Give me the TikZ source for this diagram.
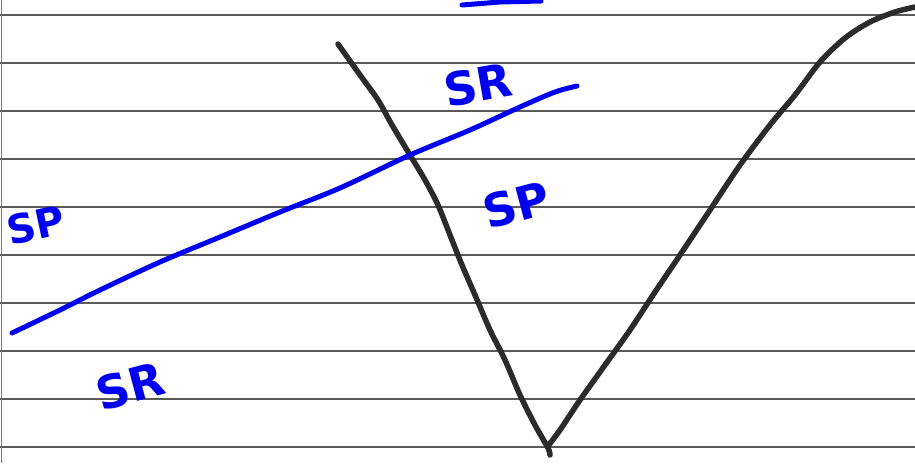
\documentclass[tikz,border=0pt]{standalone}
\usepackage{fontspec}
\setmainfont{DejaVu Sans}
\definecolor{ink}{HTML}{0000F0}
\definecolor{pencil}{HTML}{2B2B2B}
\definecolor{rule}{HTML}{5A5A5A}
\definecolor{margin}{HTML}{B06068}
\begin{document}
\begin{tikzpicture}[x=1pt,y=-1pt,
  ruleline/.style={draw=rule,line width=1.3pt},
  bluestroke/.style={draw=ink,line width=5pt,line cap=round,line join=round},
  blackstroke/.style={draw=pencil,line width=5.5pt,line cap=round,line join=round},
  hand/.style={text=ink,font=\bfseries\fontsize{46}{46}\selectfont,inner sep=0pt}]
\useasboundingbox (0,0) rectangle (915,463);
\fill[white] (0,0) rectangle (915,463);
\foreach \y in {15,63,111,159,207,255,303,351,399,447}
  \draw[ruleline] (0,\y) -- (915,\y);
\draw[margin,line width=1.3pt] (1.5,0) -- (1.5,463);
% black V curve
\draw[blackstroke] plot[smooth,tension=0.5] coordinates {(338,44) (360,75) (378,100) (392,125) (410,155) (425,180) (438,205) (450,235) (462,265) (475,295) (490,330) (505,360) (520,395) (535,425) (548,448) (550,455)};
\draw[blackstroke] plot[smooth,tension=0.5] coordinates {(548,446) (560,430) (580,400) (605,365) (630,330) (655,292) (680,255) (710,210) (740,165) (770,125) (795,95) (820,62) (845,38) (870,22) (895,12) (915,7)};
% blue line
\draw[bluestroke] plot[smooth,tension=0.5] coordinates {(12,333) (60,310) (100,290) (160,262) (220,237) (280,212) (340,188) (410,155) (470,130) (520,107) (555,92) (577,86)};
\draw[bluestroke] (462,5) -- (500,2) -- (541,1);
% labels
\node[hand,rotate=10] (sr1) at (478,85) {SR};
\node[hand,rotate=12,font=\bfseries\fontsize{40}{40}\selectfont] (sp1) at (36,225) {SP};
\node[hand,rotate=15] (sp2) at (516,205) {SP};
\node[hand,rotate=15] (sr2) at (130,386) {SR};
\end{tikzpicture}
\end{document}
